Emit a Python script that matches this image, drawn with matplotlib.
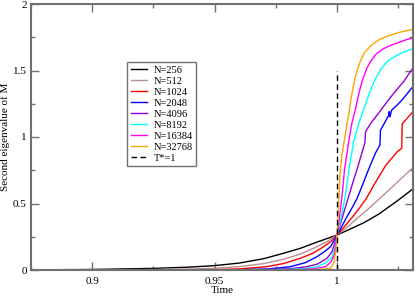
import matplotlib
matplotlib.use('Agg')
import matplotlib.pyplot as plt
from matplotlib.ticker import MultipleLocator, FormatStrFormatter

# values
labels = ['N=256', 'N=512', 'N=1024', 'N=2048', 'N=4096', 'N=8192', 'N=16384', 'N=32768']
colors = ['black', '#bc8f8f', 'red', 'blue', '#9400d3', 'cyan', 'magenta', 'orange']

t256 = [0.875, 0.9, 0.925, 0.94, 0.95, 0.96, 0.97, 0.978, 0.985, 0.9918, 1.0,
        1.005, 1.0109, 1.017, 1.0246, 1.031]
v256 = [0.001, 0.004, 0.012, 0.022, 0.033, 0.052, 0.085, 0.125, 0.163, 0.21, 0.263,
        0.305, 0.355, 0.42, 0.52, 0.61]

t512 = [0.875, 0.92, 0.94, 0.95, 0.96, 0.97, 0.978, 0.985, 0.9918, 0.996, 1.0,
        1.004, 1.008, 1.0125, 1.017, 1.024, 1.031]
v512 = [0.0, 0.002, 0.007, 0.013, 0.025, 0.048, 0.08, 0.12, 0.175, 0.215, 0.263,
        0.32, 0.385, 0.455, 0.53, 0.65, 0.77]

t1024 = [0.875, 0.95, 0.96, 0.9713, 0.978, 0.985, 0.99, 0.9945, 0.9975, 1.0,
         1.0025, 1.005, 1.0085, 1.012, 1.0157, 1.0198, 1.0246, 1.0264, 1.0266, 1.031]
v1024 = [0.0, 0.003, 0.008, 0.025, 0.048, 0.088, 0.125, 0.175, 0.215, 0.263,
         0.315, 0.37, 0.45, 0.54, 0.66, 0.785, 0.89, 0.915, 1.10, 1.19]

t2048 = [0.895, 0.96, 0.972, 0.9809, 0.987, 0.9918, 0.995, 0.9973, 1.0,
         1.002, 1.004, 1.0062, 1.0082, 1.0105, 1.0125, 1.0143, 1.0157, 1.0175, 1.0177,
         1.021, 1.0213, 1.0216, 1.0222, 1.0245, 1.0266, 1.0288, 1.031]
v2048 = [0.0, 0.002, 0.008, 0.025, 0.055, 0.10, 0.14, 0.175, 0.263,
         0.33, 0.40, 0.47, 0.54, 0.645, 0.74, 0.82, 0.88, 0.94, 1.05,
         1.16, 1.19, 1.15, 1.20, 1.24, 1.28, 1.33, 1.38]

t4096 = [0.925, 0.97, 0.981, 0.9877, 0.992, 0.9959, 0.998, 1.0,
         1.0014, 1.0027, 1.004, 1.0055, 1.0068, 1.0082, 1.0098, 1.0114, 1.0116,
         1.014, 1.017, 1.02, 1.0232, 1.0273, 1.031]
v4096 = [0.0, 0.003, 0.01, 0.025, 0.045, 0.088, 0.14, 0.263,
         0.35, 0.43, 0.51, 0.60, 0.68, 0.76, 0.86, 0.96, 1.04,
         1.11, 1.18, 1.255, 1.33, 1.42, 1.52]

t8192 = [0.96, 0.98, 0.987, 0.9918, 0.9955, 0.998, 0.9992, 1.0,
         1.0017, 1.0034, 1.0048, 1.0068, 1.0088, 1.0109, 1.013, 1.0154, 1.018,
         1.0212, 1.026, 1.031]
v8192 = [0.0, 0.004, 0.011, 0.025, 0.055, 0.10, 0.17, 0.263,
         0.40, 0.56, 0.75, 0.97, 1.10, 1.21, 1.32, 1.43, 1.515,
         1.58, 1.63, 1.665]

t16384 = [0.9705, 0.985, 0.991, 0.9952, 0.9975, 0.999, 1.0,
          1.001, 1.002, 1.003, 1.0048, 1.006, 1.0075, 1.0088, 1.0102, 1.012, 1.0137,
          1.016, 1.019, 1.022, 1.025, 1.028, 1.031]
v16384 = [0.0, 0.004, 0.01, 0.025, 0.06, 0.12, 0.263,
          0.40, 0.55, 0.75, 0.97, 1.10, 1.21, 1.32, 1.42, 1.51, 1.57,
          1.625, 1.665, 1.69, 1.71, 1.73, 1.745]

t32768 = [0.9836, 0.993, 0.9973, 0.9986, 0.9995, 1.0,
          1.0004, 1.0007, 1.0012, 1.002, 1.003, 1.004, 1.005, 1.0058, 1.0068, 1.008,
          1.0095, 1.011, 1.014, 1.017, 1.02, 1.025, 1.031]
v32768 = [0.0, 0.004, 0.013, 0.05, 0.14, 0.263,
          0.40, 0.53, 0.72, 0.87, 0.98, 1.09, 1.20, 1.30, 1.40, 1.49,
          1.57, 1.63, 1.69, 1.73, 1.755, 1.785, 1.81]

times = [t256, t512, t1024, t2048, t4096, t8192, t16384, t32768]
values = [v256, v512, v1024, v2048, v4096, v8192, v16384, v32768]

t_star = 1.0
t_star_top = 1.5

plt.rcParams['font.family'] = 'Liberation Serif'

fig = plt.figure(figsize=(4.15, 2.96), dpi=100)
ax = fig.add_axes([31/415, 1-270/296, 382/415, 266/296])

for t, v, c, lab in zip(times, values, colors, labels):
    ax.plot(t, v, color=c, linewidth=1.0, label=lab)
ax.plot([t_star, t_star], [0, t_star_top], color='black', linewidth=1.0,
        linestyle=(0, (4, 2.5)), label='T*=1')

ax.set_xlim(0.875, 1.031)
ax.set_ylim(0, 2)
ax.xaxis.set_major_locator(MultipleLocator(0.05))
ax.xaxis.set_minor_locator(MultipleLocator(0.025))
ax.yaxis.set_major_locator(MultipleLocator(0.5))
ax.yaxis.set_minor_locator(MultipleLocator(0.25))
ax.xaxis.set_major_formatter(FormatStrFormatter('%g'))
ax.yaxis.set_major_formatter(FormatStrFormatter('%g'))

gray = '#707070'
for s in ax.spines.values():
    s.set_color(gray)
    s.set_linewidth(1.5)
ax.tick_params(which='both', direction='in', top=True, right=True, color=gray,
               labelsize=8)
ax.tick_params(axis='x', pad=5)
ax.tick_params(axis='y', pad=3)
ax.tick_params(which='major', length=5.5, width=1.0)
ax.tick_params(which='minor', length=3, width=1.0)

ax.set_xlabel('Time', fontsize=8, labelpad=0)
ax.set_ylabel('Second eigenvalue of M', fontsize=8, labelpad=2)

leg = ax.legend(loc='upper left', bbox_to_anchor=(0.251, 0.782), borderaxespad=0,
                fontsize=7.5, handlelength=1.6, handletextpad=0.6, labelspacing=0.16,
                borderpad=0.35, fancybox=False, framealpha=1, edgecolor=gray)
leg.get_frame().set_linewidth(1.0)

fig.savefig('out.png', dpi=100)
